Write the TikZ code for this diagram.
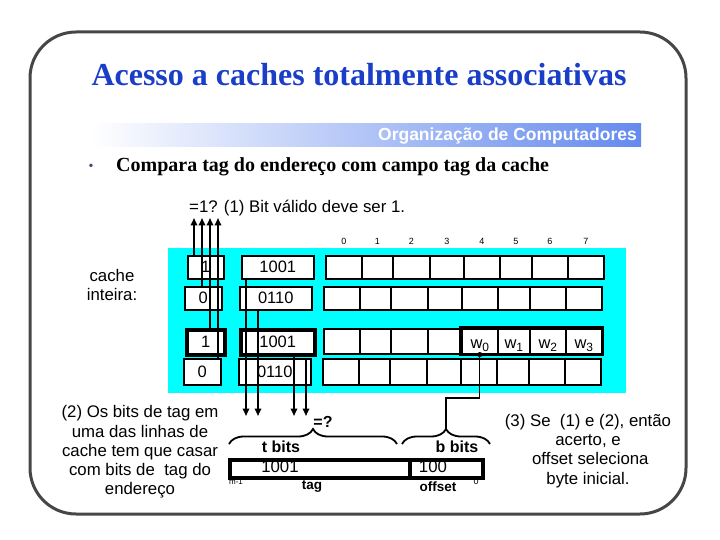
\documentclass[tikz,border=0pt]{standalone}
\usepackage{fontspec}
\setmainfont{Liberation Serif}
\setsansfont{Liberation Sans}
\usetikzlibrary{arrows.meta,decorations.pathreplacing}
\definecolor{framegray}{RGB}{70,70,70}
\definecolor{titleblue}{RGB}{26,62,200}
\definecolor{barblue}{RGB}{100,138,238}
\definecolor{cachecyan}{RGB}{0,255,255}
\definecolor{bulletcol}{RGB}{60,70,120}
\begin{document}
\begin{tikzpicture}[x=1pt,y=-1pt,
  box/.style={draw=black, fill=white, line width=1.6pt, anchor=north west, inner sep=0pt},
  thickbox/.style={box, line width=3.5pt},
  arr/.style={line width=1.8pt, -{Triangle[length=7.5pt,width=6.5pt]}},
  wire/.style={line width=1.8pt},
  sf/.style={font=\sffamily\fontsize{16.8}{19.2}\selectfont, align=center, inner sep=0pt},
  sfb/.style={font=\sffamily\bfseries\fontsize{16}{19}\selectfont, align=center, inner sep=0pt},
  cellfont/.style={font=\sffamily\fontsize{16.5}{16.5}\selectfont},
  tiny/.style={font=\sffamily\fontsize{9}{9}\selectfont, inner sep=0pt},
  brace/.style={wire, decorate, decoration={brace, amplitude=15pt}}
]
\useasboundingbox (0,0) rectangle (720,540);
% frame
\draw[framegray, line width=3pt, rounded corners=46pt] (30,32) rectangle (686,514);
% title
\node[font=\bfseries\fontsize{32}{32}\selectfont, text=titleblue, inner sep=0pt] (title) at (359,75) {Acesso a caches totalmente associativas};
% bar
\shade[left color=white, right color=barblue] (90,124) rectangle (641,147);
\node[anchor=east, text=white, font=\sffamily\bfseries\fontsize{17.5}{17.5}\selectfont, inner sep=0pt] (org) at (637,136) {Organização de Computadores};
% bullet
\node[text=bulletcol, font=\fontsize{14}{14}\selectfont, inner sep=0pt] (bul) at (91,167) {•};
\node[anchor=west, font=\bfseries\fontsize{20}{20}\selectfont, inner sep=0pt] (pt) at (116,167) {Compara tag do endereço com campo tag da cache};
% valid label
\node[sf, anchor=base west] (vl) at (189,213) {=1? (1) Bit válido deve ser 1.};
% cache area
\fill[cachecyan] (168,248) rectangle (626,393);
% rows
\foreach \r/\st/\vx/\vw/\tx/\tw/\dx/\y/\h/\vb/\tg in {
  1/box/187/36/241/72/325/255/23/1/1001,
  2/box/184/37/239/72/323/286/23/0/0110,
  3/thickbox/185/38/239/74/323/328/25/1/1001,
  4/box/183/37/238/72/322/358/26/0/0110}{
  \node[style=\st, minimum width=\vw pt, minimum height=\h pt, cellfont] (v\r) at (\vx,\y) {\vb};
  \node[style=\st, minimum width=\tw pt, minimum height=\h pt, cellfont] (t\r) at (\tx,\y) {\tg};
  \foreach \c/\o/\w in {0/0/36,1/36/31,2/67/37,3/104/34,4/138/36,5/174/32,6/206/36,7/242/36}{
    \node[box, minimum width=\w pt, minimum height=\h pt] (d\r c\c) at (\dx+\o,\y) {};
  }
}
% words
\draw[line width=3.5pt] (d3c4.north west) rectangle (d3c7.south east);
\foreach \c/\k in {4/0,5/1,6/2,7/3}{
  \path (d3c\c.south) ++(0,-6) node[cellfont, inner sep=0pt, anchor=base] (w\k) {w\raisebox{-0.35ex}{\fontsize{12}{12}\selectfont\k}};
}
% column numbers
\foreach \c in {0,...,7}{
  \path (d1c\c.north) ++(0,-14) node[tiny] (n\c) {\c};
}
% cache inteira
\node[sf] (ci) at (112,285) {cache\\inteira:};
% valid arrows
\coordinate (q1) at (194,218);
\coordinate (q2) at (202,218);
\coordinate (q3) at (210,218);
\coordinate (q4) at (218,218);
\draw[arr] (q1 |- v1.north) -- (q1);
\draw[arr] (q2 |- v2.north) -- (q2);
\draw[arr] (q3 |- v3.north) -- (q3);
\draw[arr] (q4 |- v4.north) -- (q4);
% tag arrows
\coordinate (p1) at (246,416);
\coordinate (p2) at (258,416);
\coordinate (p3) at (294,416);
\coordinate (p4) at (306,416);
\draw[arr] (p1 |- t1.south) -- (p1);
\draw[arr] (p2 |- t2.south) -- (p2);
\draw[arr] (p3 |- t3.south) -- (p3);
\draw[arr] (p4 |- t4.north) -- (p4);
\node[sfb] (eq) at (323,422) {=?};
% braces
\coordinate (tl) at (229,444);
\coordinate (tr) at (397,444);
\coordinate (bl) at (402,444);
\coordinate (br) at (490,444);
\draw[brace] (tl) -- (tr);
\draw[brace] (bl) -- (br);
\coordinate (btip) at (446,429);
\coordinate (bend) at (446,398);
\draw[line width=1.2pt] (btip) -- (bend) -| (d3c4.south);
\fill (d3c4.south) circle (2.6pt);
\node[sfb] (tb) at (281,447) {t bits};
\node[sfb] (bb) at (457,447) {b bits};
% address
\node[thickbox, minimum width=180pt, minimum height=18pt] (atag) at (228,458) {};
\node[thickbox, minimum width=73pt, minimum height=18pt] (aoff) at (408,458) {};
\node[sf] (atv) at (280,467) {1001};
\node[sf] (aov) at (433,467) {100};
\node[tiny, font=\sffamily\fontsize{8}{8}\selectfont] (m1) at (236,482) {m-1};
\node[tiny] (z0) at (476,481) {0};
\node[sfb, font=\sffamily\bfseries\fontsize{13.5}{13.5}\selectfont] (tagl) at (312,487) {tag};
\node[sfb, font=\sffamily\bfseries\fontsize{13.5}{13.5}\selectfont] (offl) at (438,487) {offset};
% notes
\node[sf] (n2) at (140,452) {(2) Os bits de tag em\\uma das linhas de\\cache tem que casar\\com bits de\ \ tag do\\endereço};
\node[sf] (n3) at (588,451) {(3) Se\ \ (1) e (2), então\\acerto, e\\\ offset seleciona\\byte inicial.};
\end{tikzpicture}
\end{document}
